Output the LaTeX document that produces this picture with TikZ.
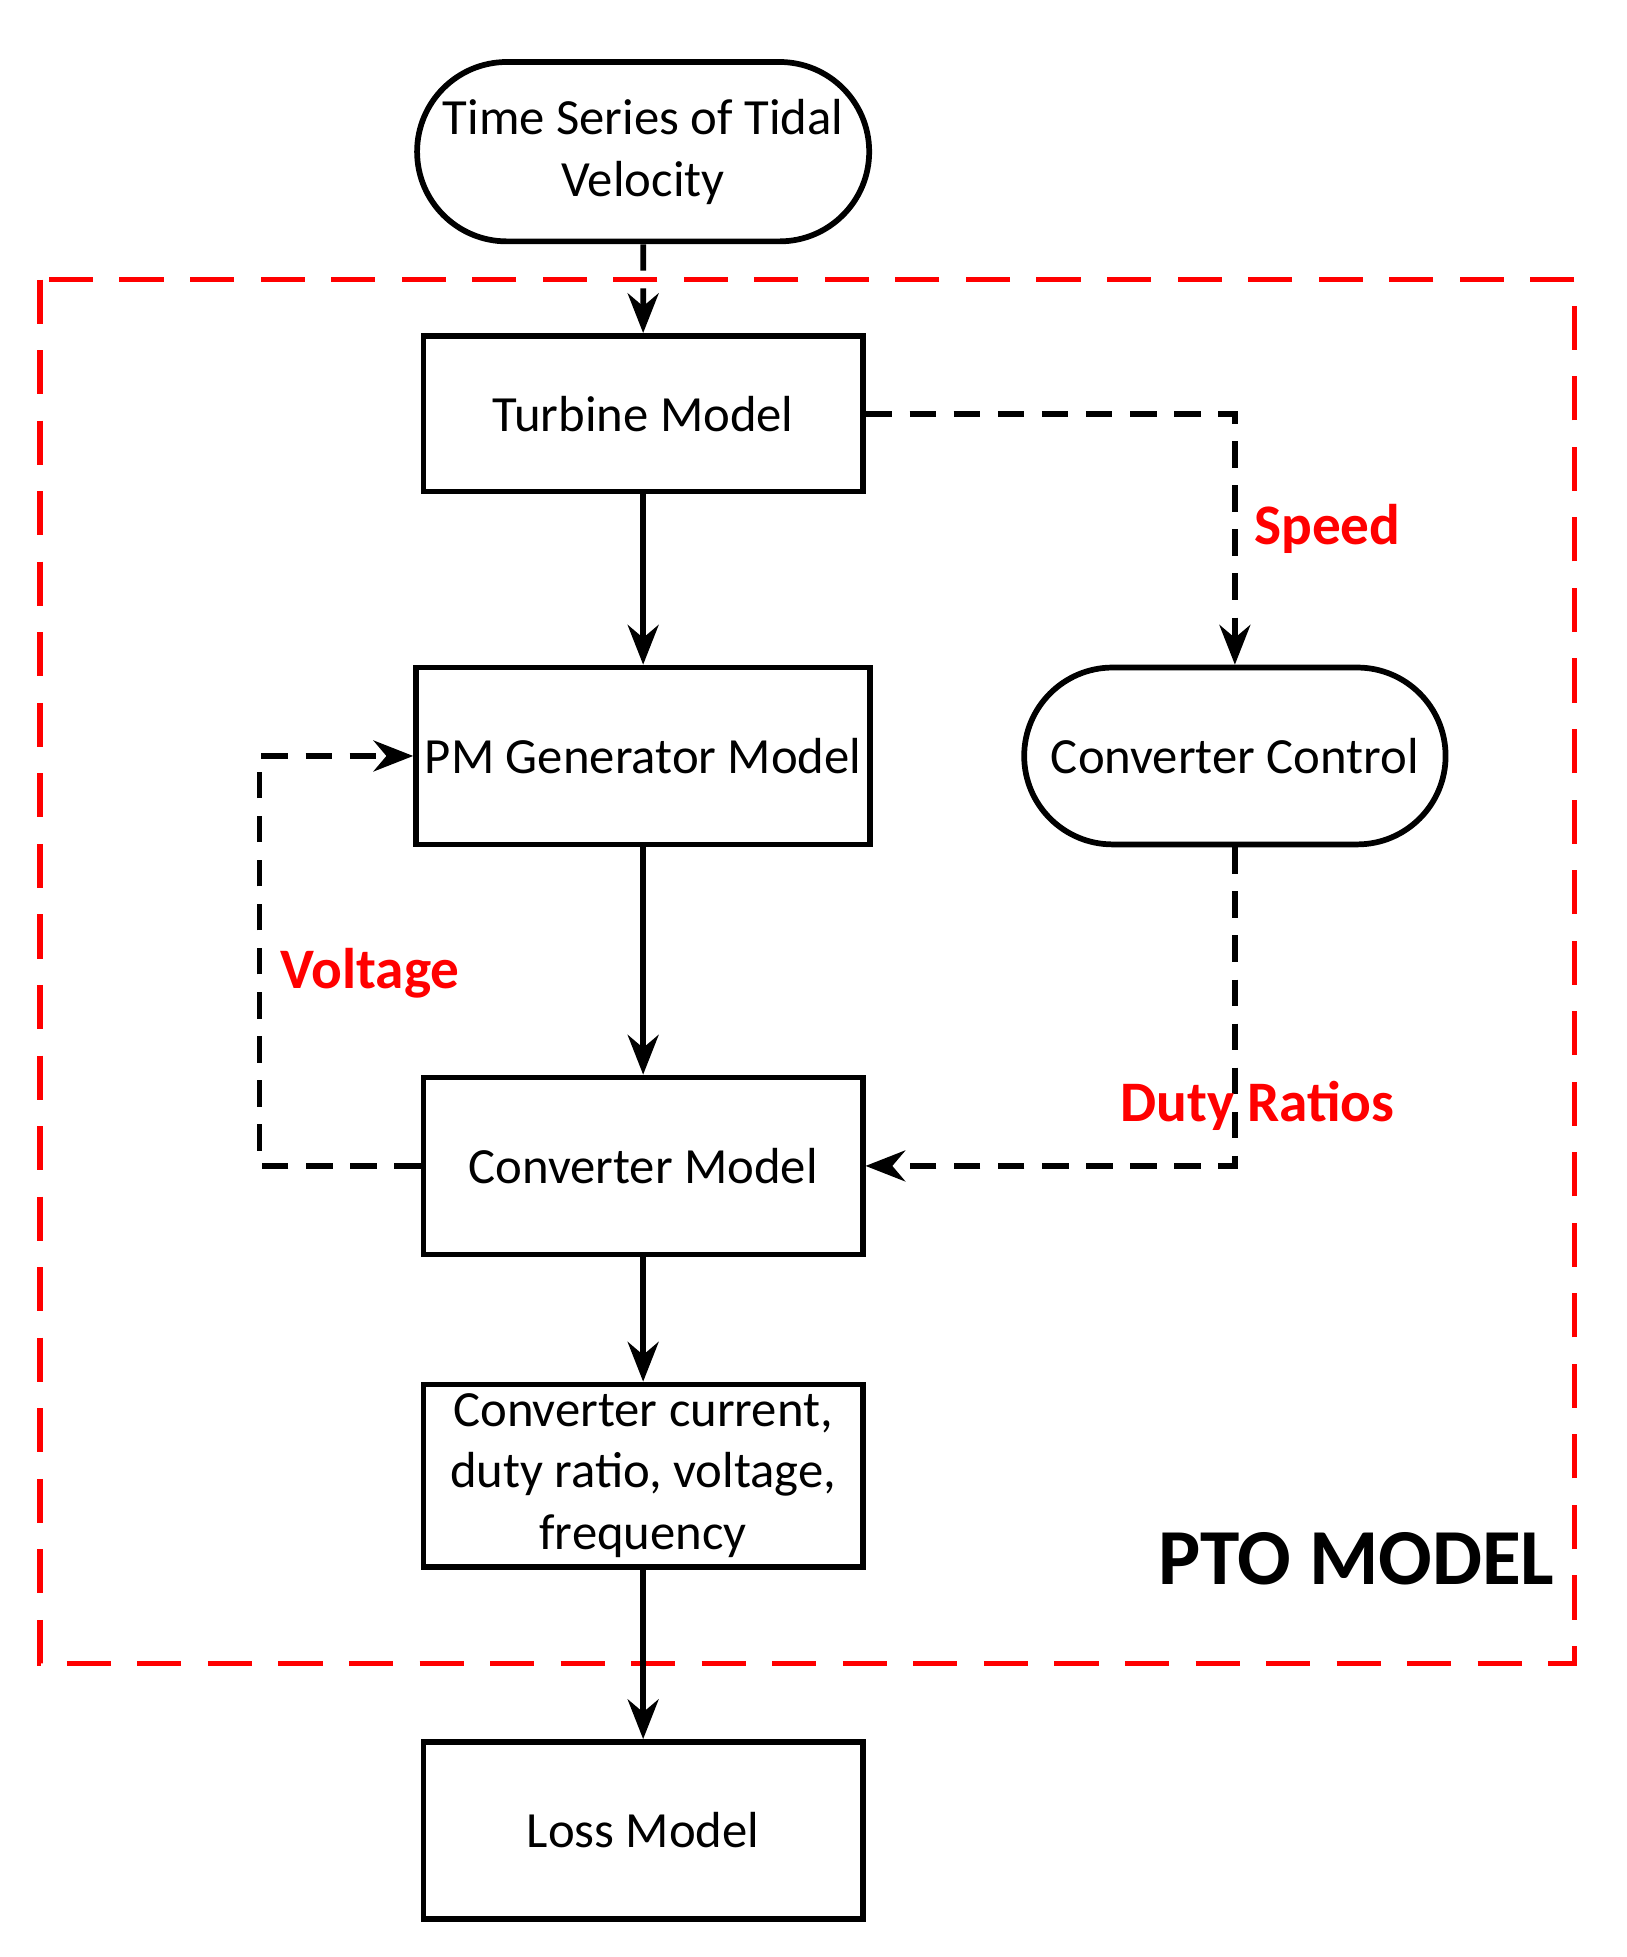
\documentclass[tikz,border=0pt]{standalone}
\usepackage{fontspec}
\setmainfont{Carlito}
\usetikzlibrary{shapes.misc,arrows.meta}
\begin{document}
\begin{tikzpicture}[x=0.01cm,y=-0.01cm,
  box/.style={draw,line width=1.3pt,minimum width=3.5cm,align=center,font=\fontsize{11.5}{14}\selectfont,inner sep=2pt},
  term/.style={box,rounded rectangle},
  arr/.style={line width=1.3pt,-{Stealth[length=9pt,width=7pt]}},
  darr/.style={arr,dash pattern=on 6pt off 4pt},
  lab/.style={text=red,font=\bfseries\fontsize{13}{15}\selectfont}]
\useasboundingbox (0,0) rectangle (1297,1561);
\draw[red,line width=1.2pt,dash pattern=on 10pt off 6pt] (32,223) rectangle (1256,1327);
\node[term,minimum height=1.43cm] (ts) at (513,121) {Time Series of Tidal\\Velocity};
\node[box,minimum height=1.24cm] (tm) at (513,330) {Turbine Model};
\node[box,minimum height=1.41cm] (pm) at (513,603) {PM Generator Model};
\node[term,minimum height=1.41cm] (cc) at (985,603) {Converter Control};
\node[box,minimum height=1.41cm] (cm) at (513,930) {Converter Model};
\node[box,minimum height=1.42cm] (out) at (513,1177) {Converter current,\\duty ratio, voltage,\\frequency};
\node[box,minimum height=1.41cm] (lm) at (513,1460) {Loss Model};
\coordinate (c1) at (985,330);
\coordinate (c2) at (985,930);
\coordinate (c3) at (207,930);
\coordinate (c4) at (207,603);
\draw[darr] (ts) -- (tm);
\draw[arr] (tm) -- (pm);
\draw[arr] (pm) -- (cm);
\draw[arr] (cm) -- (out);
\draw[arr] (out) -- (lm);
\draw[darr] (tm.east) -- (c1) -- (cc.north);
\draw[darr] (cc.south) -- (c2) -- (cm.east);
\draw[darr] (cm.west) -- (c3) -- (c4) -- (pm.west);
\node[lab,anchor=west] (sp) at (988,422) {Speed};
\node[lab] (vo) at (295,776) {Voltage};
\node[lab] (du) at (1003,882) {Duty Ratios};
\node[font=\bfseries\fontsize{18}{20}\selectfont] (pto) at (1082,1243) {PTO MODEL};
\end{tikzpicture}
\end{document}
